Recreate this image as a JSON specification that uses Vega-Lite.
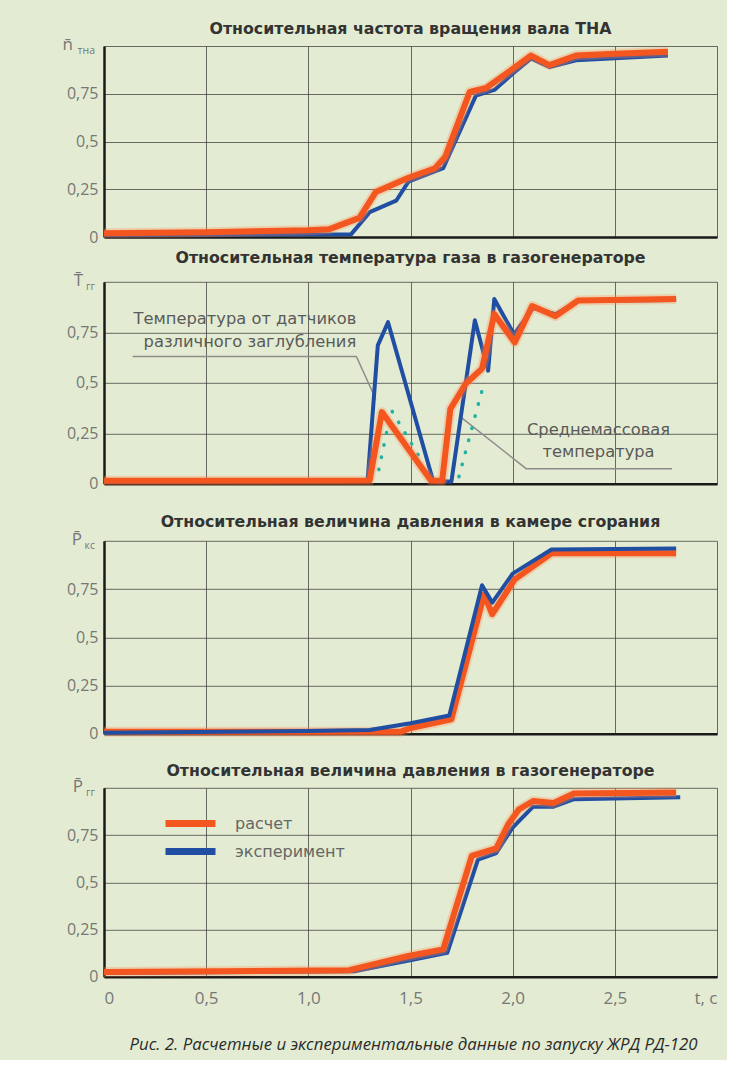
{
  "$schema": "https://vega.github.io/schema/vega-lite/v6.json",
  "padding": {"left": 62, "top": 20, "right": 10, "bottom": 6},
  "background": "#e3ecd2",
  "spacing": 3.8,
  "title": {"text": "Рис. 2.  Расчетные и экспериментальные данные по запуску ЖРД РД-120", "orient": "bottom", "font": "Open Sans", "fontStyle": "italic", "fontWeight": "normal", "fontSize": 16.8, "color": "#2b2b2b", "offset": 30, "anchor": "middle", "dx": 3},
  "config": {
    "font": "Open Sans",
    "view": {"stroke": null},
    "axis": {"grid": true, "gridColor": "#3c3c3c", "gridOpacity": 0.75, "gridWidth": 1, "domainColor": "#1a1a1a", "domainWidth": 2.5, "ticks": false, "labelColor": "#777777", "labelFontSize": 16, "title": null},
    "title": {"font": "DejaVu Sans", "fontSize": 15.8, "fontWeight": "bold", "color": "#333333", "anchor": "middle", "frame": "group"},
    "legend": {"orient": "none", "legendX": 73.5, "legendY": 764.5, "title": null, "symbolType": "M-2.63,0H2.63", "symbolSize": 361, "symbolStrokeWidth": 7, "labelFont": "DejaVu Sans", "labelFontSize": 16, "labelColor": "#666666", "labelOffset": 31.5, "rowPadding": 0}
  },
  "datasets": {
    "p1": [
      {"t": 0, "v": 0.02, "s": "расчет"}, {"t": 0.5, "v": 0.025, "s": "расчет"}, {"t": 1.0, "v": 0.035, "s": "расчет"}, {"t": 1.1, "v": 0.04, "s": "расчет"}, {"t": 1.25, "v": 0.1, "s": "расчет"}, {"t": 1.33, "v": 0.235, "s": "расчет"}, {"t": 1.49, "v": 0.31, "s": "расчет"}, {"t": 1.62, "v": 0.36, "s": "расчет"}, {"t": 1.67, "v": 0.42, "s": "расчет"}, {"t": 1.79, "v": 0.76, "s": "расчет"}, {"t": 1.87, "v": 0.78, "s": "расчет"}, {"t": 2.0, "v": 0.88, "s": "расчет"}, {"t": 2.09, "v": 0.95, "s": "расчет"}, {"t": 2.18, "v": 0.9, "s": "расчет"}, {"t": 2.31, "v": 0.95, "s": "расчет"}, {"t": 2.5, "v": 0.96, "s": "расчет"}, {"t": 2.76, "v": 0.97, "s": "расчет"},
      {"t": 0, "v": 0.01, "s": "эксперимент"}, {"t": 1.21, "v": 0.015, "s": "эксперимент"}, {"t": 1.3, "v": 0.13, "s": "эксперимент"}, {"t": 1.43, "v": 0.19, "s": "эксперимент"}, {"t": 1.49, "v": 0.29, "s": "эксперимент"}, {"t": 1.66, "v": 0.36, "s": "эксперимент"}, {"t": 1.82, "v": 0.74, "s": "эксперимент"}, {"t": 1.91, "v": 0.77, "s": "эксперимент"}, {"t": 2.0, "v": 0.855, "s": "эксперимент"}, {"t": 2.09, "v": 0.935, "s": "эксперимент"}, {"t": 2.18, "v": 0.89, "s": "эксперимент"}, {"t": 2.31, "v": 0.925, "s": "эксперимент"}, {"t": 2.76, "v": 0.95, "s": "эксперимент"}
    ],
    "p2": [
      {"t": 0, "v": 0.015, "s": "расчет"}, {"t": 1.3, "v": 0.016, "s": "расчет"}, {"t": 1.36, "v": 0.355, "s": "расчет"}, {"t": 1.6, "v": 0.016, "s": "расчет"}, {"t": 1.655, "v": 0.015, "s": "расчет"}, {"t": 1.695, "v": 0.37, "s": "расчет"}, {"t": 1.77, "v": 0.495, "s": "расчет"}, {"t": 1.85, "v": 0.57, "s": "расчет"}, {"t": 1.91, "v": 0.84, "s": "расчет"}, {"t": 2.01, "v": 0.7, "s": "расчет"}, {"t": 2.095, "v": 0.88, "s": "расчет"}, {"t": 2.21, "v": 0.83, "s": "расчет"}, {"t": 2.32, "v": 0.907, "s": "расчет"}, {"t": 2.8, "v": 0.915, "s": "расчет"},
      {"t": 0, "v": 0.01, "s": "эксперимент"}, {"t": 1.29, "v": 0.016, "s": "эксперимент"}, {"t": 1.34, "v": 0.685, "s": "эксперимент"}, {"t": 1.39, "v": 0.8, "s": "эксперимент"}, {"t": 1.61, "v": 0.016, "s": "эксперимент"}, {"t": 1.7, "v": 0.01, "s": "эксперимент"}, {"t": 1.815, "v": 0.81, "s": "эксперимент"}, {"t": 1.88, "v": 0.56, "s": "эксперимент"}, {"t": 1.91, "v": 0.915, "s": "эксперимент"}, {"t": 2.006, "v": 0.74, "s": "эксперимент"}, {"t": 2.1, "v": 0.87, "s": "эксперимент"}, {"t": 2.21, "v": 0.84, "s": "эксперимент"}, {"t": 2.32, "v": 0.905, "s": "эксперимент"}, {"t": 2.8, "v": 0.91, "s": "эксперимент"}
    ],
    "p3": [
      {"t": 0, "v": 0.01, "s": "расчет"}, {"t": 1.45, "v": 0.01, "s": "расчет"}, {"t": 1.5, "v": 0.03, "s": "расчет"}, {"t": 1.7, "v": 0.075, "s": "расчет"}, {"t": 1.86, "v": 0.72, "s": "расчет"}, {"t": 1.9, "v": 0.62, "s": "расчет"}, {"t": 2.01, "v": 0.8, "s": "расчет"}, {"t": 2.19, "v": 0.935, "s": "расчет"}, {"t": 2.8, "v": 0.935, "s": "расчет"},
      {"t": 0, "v": 0.005, "s": "эксперимент"}, {"t": 1.0, "v": 0.015, "s": "эксперимент"}, {"t": 1.3, "v": 0.02, "s": "эксперимент"}, {"t": 1.5, "v": 0.055, "s": "эксперимент"}, {"t": 1.69, "v": 0.095, "s": "эксперимент"}, {"t": 1.85, "v": 0.77, "s": "эксперимент"}, {"t": 1.9, "v": 0.68, "s": "эксперимент"}, {"t": 2.0, "v": 0.83, "s": "эксперимент"}, {"t": 2.19, "v": 0.955, "s": "эксперимент"}, {"t": 2.8, "v": 0.96, "s": "эксперимент"}
    ],
    "p4": [
      {"t": 0, "v": 0.025, "s": "расчет"}, {"t": 1.2, "v": 0.035, "s": "расчет"}, {"t": 1.49, "v": 0.11, "s": "расчет"}, {"t": 1.66, "v": 0.145, "s": "расчет"}, {"t": 1.8, "v": 0.64, "s": "расчет"}, {"t": 1.92, "v": 0.68, "s": "расчет"}, {"t": 1.98, "v": 0.81, "s": "расчет"}, {"t": 2.03, "v": 0.885, "s": "расчет"}, {"t": 2.1, "v": 0.93, "s": "расчет"}, {"t": 2.2, "v": 0.92, "s": "расчет"}, {"t": 2.3, "v": 0.97, "s": "расчет"}, {"t": 2.8, "v": 0.975, "s": "расчет"},
      {"t": 0, "v": 0.02, "s": "эксперимент"}, {"t": 1.23, "v": 0.03, "s": "эксперимент"}, {"t": 1.51, "v": 0.09, "s": "эксперимент"}, {"t": 1.68, "v": 0.127, "s": "эксперимент"}, {"t": 1.83, "v": 0.62, "s": "эксперимент"}, {"t": 1.92, "v": 0.655, "s": "эксперимент"}, {"t": 2.0, "v": 0.79, "s": "эксперимент"}, {"t": 2.1, "v": 0.9, "s": "эксперимент"}, {"t": 2.2, "v": 0.9, "s": "эксперимент"}, {"t": 2.3, "v": 0.94, "s": "эксперимент"}, {"t": 2.82, "v": 0.95, "s": "эксперимент"}
    ],
    "dots": [
      {"t": 1.345, "v": 0.07, "g": "a"}, {"t": 1.406, "v": 0.365, "g": "a"}, {"t": 1.54, "v": 0.14, "g": "a"},
      {"t": 1.737, "v": 0.035, "g": "b"}, {"t": 1.86, "v": 0.5, "g": "b"}
    ],
    "leaders": [
      {"t": 0.14, "v": 0.63, "g": "a"}, {"t": 1.235, "v": 0.63, "g": "a"}, {"t": 1.33, "v": 0.42, "g": "a"},
      {"t": 1.74, "v": 0.335, "g": "b"}, {"t": 2.066, "v": 0.075, "g": "b"}, {"t": 2.78, "v": 0.075, "g": "b"}
    ],
    "notes": [
      {"t": 0.69, "v": 0.815, "text": "Температура от датчиков"},
      {"t": 0.714, "v": 0.7, "text": "различного заглубления"},
      {"t": 2.42, "v": 0.267, "text": "Среднемассовая"},
      {"t": 2.42, "v": 0.158, "text": "температура"}
    ]
  },
  "vconcat": [
    {"vconcat": [
    {
      "width": 613, "height": 191,
      "title": {"text": "Относительная частота вращения вала ТНА", "offset": -1.5},
      "data": {"name": "p1"},
      "encoding": {
        "x": {"field": "t", "type": "quantitative", "scale": {"domain": [0, 3], "nice": false}, "axis": {"values": [0, 0.5, 1, 1.5, 2, 2.5, 3], "labels": false}},
        "y": {"field": "v", "type": "quantitative", "scale": {"domain": [0, 1], "nice": false}, "axis": {"values": [0, 0.25, 0.5, 0.75, 1], "labelPadding": 6, "labelExpr": "datum.value == 1 ? '' : datum.value == 0 ? '0' : replace(toString(datum.value), '.', ',')"}}
      },
      "layer": [
        {"transform": [{"filter": "datum.s == 'эксперимент'"}], "mark": {"type": "line", "strokeWidth": 4, "strokeJoin": "round"}, "encoding": {"color": {"field": "s", "type": "nominal", "scale": {"domain": ["расчет", "эксперимент"], "range": ["#f4561f", "#1f4ea3"]}}}},
        {"transform": [{"filter": "datum.s == 'расчет'"}], "mark": {"type": "line", "strokeWidth": 10, "opacity": 0.3, "color": "#ff8a55", "strokeJoin": "round"}},
        {"transform": [{"filter": "datum.s == 'расчет'"}], "mark": {"type": "line", "strokeWidth": 6, "strokeJoin": "round"}, "encoding": {"color": {"field": "s", "type": "nominal"}}},
        {"data": {"values": [{"t": 0, "v": 1, "main": "n̄", "sub": "тна"}]}, "mark": {"type": "text", "align": "right", "baseline": "middle", "dx": -31, "dy": -1, "fontSize": 17, "color": "#777777"}, "encoding": {"text": {"field": "main"}}},
        {"data": {"values": [{"t": 0, "v": 1, "main": "n̄", "sub": "тна"}]}, "mark": {"type": "text", "align": "right", "baseline": "middle", "dx": -9, "dy": 5, "fontSize": 10.5, "color": "#777777"}, "encoding": {"text": {"field": "sub"}}}
      ]
    }]},
    {"spacing": 21, "vconcat": [
    {
      "width": 613, "height": 202,
      "title": {"text": "Относительная температура газа в газогенераторе", "offset": 5.5},
      "data": {"name": "p2"},
      "encoding": {
        "x": {"field": "t", "type": "quantitative", "scale": {"domain": [0, 3], "nice": false}, "axis": {"values": [0, 0.5, 1, 1.5, 2, 2.5, 3], "labels": false}},
        "y": {"field": "v", "type": "quantitative", "scale": {"domain": [0, 1], "nice": false}, "axis": {"values": [0, 0.25, 0.5, 0.75, 1], "labelPadding": 6, "labelExpr": "datum.value == 1 ? '' : datum.value == 0 ? '0' : replace(toString(datum.value), '.', ',')"}}
      },
      "layer": [
        {"data": {"name": "leaders"}, "mark": {"type": "line", "strokeWidth": 1.5, "color": "#8c8c8c"}, "encoding": {"detail": {"field": "g"}}},
        {"data": {"name": "dots"}, "mark": {"type": "line", "strokeWidth": 3.5, "color": "#22b2a4", "strokeDash": [0.5, 12], "strokeCap": "round"}, "encoding": {"detail": {"field": "g"}}},
        {"transform": [{"filter": "datum.s == 'эксперимент'"}], "mark": {"type": "line", "strokeWidth": 4, "strokeJoin": "round"}, "encoding": {"color": {"field": "s", "type": "nominal"}}},
        {"transform": [{"filter": "datum.s == 'расчет'"}], "mark": {"type": "line", "strokeWidth": 10, "opacity": 0.3, "color": "#ff8a55", "strokeJoin": "round"}},
        {"transform": [{"filter": "datum.s == 'расчет'"}], "mark": {"type": "line", "strokeWidth": 6, "strokeJoin": "round"}, "encoding": {"color": {"field": "s", "type": "nominal"}}},
        {"data": {"name": "notes"}, "mark": {"type": "text", "align": "center", "baseline": "middle", "font": "DejaVu Sans", "fontSize": 16.3, "color": "#5a5a5a"}, "encoding": {"text": {"field": "text"}}},
        {"data": {"values": [{"t": 0, "v": 1, "main": "T̄", "sub": "гг"}]}, "mark": {"type": "text", "align": "right", "baseline": "middle", "dx": -21, "dy": -1, "fontSize": 17, "color": "#777777"}, "encoding": {"text": {"field": "main"}}},
        {"data": {"values": [{"t": 0, "v": 1, "main": "T̄", "sub": "гг"}]}, "mark": {"type": "text", "align": "right", "baseline": "middle", "dx": -9, "dy": 5, "fontSize": 10.5, "color": "#777777"}, "encoding": {"text": {"field": "sub"}}}
      ]
    },
    {
      "width": 613, "height": 193,
      "title": {"text": "Относительная величина давления в камере сгорания", "offset": 0.5},
      "data": {"name": "p3"},
      "encoding": {
        "x": {"field": "t", "type": "quantitative", "scale": {"domain": [0, 3], "nice": false}, "axis": {"values": [0, 0.5, 1, 1.5, 2, 2.5, 3], "labels": false}},
        "y": {"field": "v", "type": "quantitative", "scale": {"domain": [0, 1], "nice": false}, "axis": {"values": [0, 0.25, 0.5, 0.75, 1], "labelPadding": 6, "labelExpr": "datum.value == 1 ? '' : datum.value == 0 ? '0' : replace(toString(datum.value), '.', ',')"}}
      },
      "layer": [
        {"transform": [{"filter": "datum.s == 'расчет'"}], "mark": {"type": "line", "strokeWidth": 10, "opacity": 0.3, "color": "#ff8a55", "strokeJoin": "round"}},
        {"transform": [{"filter": "datum.s == 'расчет'"}], "mark": {"type": "line", "strokeWidth": 6, "strokeJoin": "round"}, "encoding": {"color": {"field": "s", "type": "nominal"}}},
        {"transform": [{"filter": "datum.s == 'эксперимент'"}], "mark": {"type": "line", "strokeWidth": 4, "strokeJoin": "round"}, "encoding": {"color": {"field": "s", "type": "nominal"}}},
        {"data": {"values": [{"t": 0, "v": 1, "main": "P̄", "sub": "кс"}]}, "mark": {"type": "text", "align": "right", "baseline": "middle", "dx": -22, "dy": -1, "fontSize": 17, "color": "#777777"}, "encoding": {"text": {"field": "main"}}},
        {"data": {"values": [{"t": 0, "v": 1, "main": "P̄", "sub": "кс"}]}, "mark": {"type": "text", "align": "right", "baseline": "middle", "dx": -9, "dy": 5, "fontSize": 10.5, "color": "#777777"}, "encoding": {"text": {"field": "sub"}}}
      ]
    },
    {
      "width": 613, "height": 189,
      "title": {"text": "Относительная величина давления в газогенераторе", "offset": -2},
      "data": {"name": "p4"},
      "encoding": {
        "x": {"field": "t", "type": "quantitative", "scale": {"domain": [0, 3], "nice": false}, "axis": {"values": [0, 0.5, 1, 1.5, 2, 2.5, 3], "labelPadding": 14, "labelFontSize": 17, "labelExpr": "datum.value == 0 ? '0' : datum.value == 3 ? 't, c' : replace(format(datum.value, '.1f'), '.', ',')"}},
        "y": {"field": "v", "type": "quantitative", "scale": {"domain": [0, 1], "nice": false}, "axis": {"values": [0, 0.25, 0.5, 0.75, 1], "labelPadding": 6, "labelExpr": "datum.value == 1 ? '' : datum.value == 0 ? '0' : replace(toString(datum.value), '.', ',')"}}
      },
      "layer": [
        {"transform": [{"filter": "datum.s == 'эксперимент'"}], "mark": {"type": "line", "strokeWidth": 4, "strokeJoin": "round"}, "encoding": {"color": {"field": "s", "type": "nominal"}}},
        {"transform": [{"filter": "datum.s == 'расчет'"}], "mark": {"type": "line", "strokeWidth": 10, "opacity": 0.3, "color": "#ff8a55", "strokeJoin": "round"}},
        {"transform": [{"filter": "datum.s == 'расчет'"}], "mark": {"type": "line", "strokeWidth": 6, "strokeJoin": "round"}, "encoding": {"color": {"field": "s", "type": "nominal"}}},
        {"data": {"values": [{"t": 0, "v": 1, "main": "P̄", "sub": "гг"}]}, "mark": {"type": "text", "align": "right", "baseline": "middle", "dx": -21, "dy": -1, "fontSize": 17, "color": "#777777"}, "encoding": {"text": {"field": "main"}}},
        {"data": {"values": [{"t": 0, "v": 1, "main": "P̄", "sub": "гг"}]}, "mark": {"type": "text", "align": "right", "baseline": "middle", "dx": -9, "dy": 5, "fontSize": 10.5, "color": "#777777"}, "encoding": {"text": {"field": "sub"}}}
      ]
    }]}
  ]
}
